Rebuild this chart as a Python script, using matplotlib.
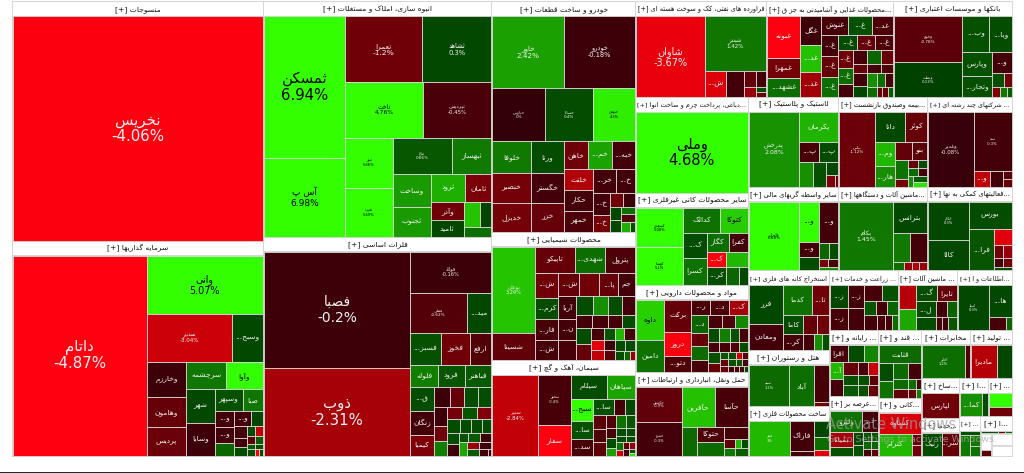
import numpy as np
import matplotlib
matplotlib.use('Agg')
import matplotlib.pyplot as plt
from matplotlib.patches import Rectangle

nan = float('nan')

# sectors, all rows below run in the same order
SECTOR_TITLES = [
    'منسوجات', 'سرمایه گذاریها', 'انبوه سازی، املاک و مستغلات', 'فلزات اساسی',
    'خودرو و ساخت قطعات', 'محصولات شیمیایی', 'سیمان، آهک و گچ',
    'فراورده های نفتی، کک و سوخت هسته ای', '...محصولات غذایی و آشامیدنی به جز ق', 'بانکها و موسسات اعتباری',
    '...دباغی، پرداخت چرم و ساخت انوا', 'سایر محصولات کانی غیرفلزی', 'مواد و محصولات دارویی', 'حمل ونقل، انبارداری و ارتباطات',
    'لاستیک و پلاستیک', '...بیمه وصندوق بازنشست', '... شرکتهای چند رشته ای',
    'سایر واسطه گریهای مالی', '...ماشین آلات و دستگاهها', '...فعالیتهای کمکی به نها',
    'استخراج کانه های فلزی', 'هتل و رستوران', 'ساخت محصولات فلزی',
    '... زراعت و خدمات', '... ماشین آلات', '...اطلاعات و ا',
    '... رایانه و', '...عرضه بر', '... قند و', '...کانی و',
    'مخابرات', '... تولید', '...ساخ', '...خدما', '...ا', '...', '...', '...ا', '', '', '',
]
SECTOR_WEIGHTS = [
    59750, 53750, 53580, 49930, 32890, 18376, 13656, 12445, 12065, 11305,
    10752, 10304, 9744, 9408, 8099, 7921, 7565, 7553, 7387, 7055,
    6399, 4536, 3969, 4071, 3481, 3245, 3234, 2940, 2924, 2494,
    2352, 2016, 1480, 1406, 1102, 912, 819, 544, 242, 252, 210,
]
SECTOR_STRIPS = 'c2 c2 c3 r3 c4 r3 r3 c3 r3 c2 c2 r2 c2 r2 c1 r1 c1 r1 r1'

TILE_NAMES = [
    ['نخریس'],
    ['داتام', 'وانی', 'سدبیر', 'وسبح...', 'وخارزم', 'وهامون', 'پردیس', 'سرچشمه', 'وآوا', 'شهر', 'وسایا', 'وسپهر', 'صبا', 'و...', 'و...', '', 'و...'],
    ['ثمسکن', 'آس پ', 'تعمرا', 'ثشاهد', 'ثاخت', 'ثپردیس', 'ثنور', 'ثغرب', 'ثباغ', 'ثبهساز', 'وساخت', 'ثجنوب', 'ثرود', 'ثامان', 'وآذر', 'ثامید'],
    ['فصبا', 'ذوب', 'فولاد', 'فملی', 'مید...', 'فسبز...', 'فخوز', 'ارفع', 'فلوله', 'فرود', 'فباهنر', 'ق...', 'زنگان', 'کیمیا'],
    ['خاور', 'خودرو', 'خپارس', 'خساپا', 'خبهمن', 'خلوفا', 'خنصیر', 'خدیزل', 'ورنا', 'خگستر', 'خزر', 'خاهن', 'خم...', 'خبه...', 'خلنت', 'حکار', 'خمهر', 'خر...', 'خ...', 'خ...', 'خ...'],
    ['بوعلی', 'شسینا', 'تاپیکو', 'شهدی...', 'پترول', 'ش...', 'کرم...', 'فار...', 'ش...', 'ش...', '', 'پا...', 'جم', 'آریا', 'ن...'],
    ['سنیر', 'سخوز', 'سفار', 'سیلام', 'سپاهان', 'سبج...', 'سا...', 'سد...', 'سا...'],
    ['شاوان', 'شبندر', 'ش...'],
    ['غبونه', 'غمهرا', 'غشهد...', 'غگل', 'غد...', 'غد...', 'غنوش', 'غ...', 'غد...', 'غ...', 'غ...', 'غ...', 'غ...', 'غ...', 'غ...', 'غ...', 'غ...'],
    ['وخوم', 'وبملت', 'وب...', 'ویا...', 'وپارس', 'وتجار...', 'و...'],
    ['وملی'],
    ['کسعدی', 'کهمدا', 'کدالک', 'کتوکا', 'ک...', 'کسرا', 'کگاز', 'کفرا', 'ک...', '', 'کر...'],
    ['داوه', 'دامین', 'برکت', 'دروز', 'دتو...', 'ر...', 'د...', 'ک...', 'د...'],
    ['حکشتی', 'حپترو', 'حآفرین', 'حآسا', '', 'حتوکا'],
    ['پدرخش', 'پکرمان', 'پ...', 'پ...'],
    ['بپاس', 'دانا', 'کوثر', 'وم...', 'هار...', '', 'بنو'],
    ['وغدیر', 'سپه', 'و...'],
    ['وایران', 'و...', 'و...', '', 'و...'],
    ['بکام', 'بترانس'],
    ['اتکام', 'کالا', 'بورس', 'فرا...'],
    ['فزر', 'ومعادن', 'کدما', 'تا...', 'کاما', 'کر...'],
    ['سپید', 'آباد'],
    ['فجر', 'فاراک'],
    ['ز...', 'ز...', 'ز...'],
    ['', '', 'گ...', 'تایرا', 'ل...'],
    ['اسیا', 'ها...'],
    ['اقرا', '', '', 'آ...'],
    ['ولیرو', 'د...', 'بمیانا'],
    ['قثابت'],
    ['کساوه', 'کترام'],
    ['اخابر'],
    ['مادیرا'],
    ['لپارس'],
    ['رنیک', 'سر...'],
    ['کما...'],
    [], [], [], [], [], [],
]

TILE_CHANGES = [
    [-4.06],
    [-4.87, 5.07, -3.04, 0.3, -0.2, -1, -1.1, 1.4, 4.9, 0.3, -0.2, 0.5, 1.4, -0.3, -0.3, 1.0, -0.3, 0.3, -0.3, -0.3, 0.4, 0.4, -2.8, -0.8, 0.8, 0.7, 0.5, 0.5, -4, 0.4],
    [6.94, 6.98, -1.2, 0.3, 4.76, -0.45, 5.66, 5.69, 0.66, 1.5, 2.3, 2.3, 2.8, -1.4, -1.2, 0.3, 3.3, 0.2, 1.2],
    [-0.2, -2.31, -0.16, -0.62, 0.3, 0.5, -1.2, -0.6, 1.6, 0.6, 0.7, 0.4, -0.3, -1.5, -0.2, -1, 0.4, 0.4, -0.2, -1.2, 1.6, -1.3, 0.6, -1.5, 0.4, 0.4, 0.4, 0.4, 0.4, -0.2, 0.5, 0.7, -0.2, 2.6, -2, -0.2, 0.7, -0.3, -0.2],
    [2.42, -0.18, -0.0, 0.4, 4.3, 1.5, -1.3, -1.3, 0.4, -0.3, -1, -1.2, 2.5, -0.3, -2.5, -0.3, -0.5, -0.3, -0.3, -0.3, -1.3, -1.2, -0.2, 0.3, 0.3, 1.3, -0.6, 2.8, 0.4],
    [3.29, -0.9, -1, 1.2, -0.5, -1.2, 0.4, -0.4, -0.4, -1, -1.2, -1, -0.3, -0.3, -0.3, -0.4, 0.4, 2, 0.4, -0.3, -0.3, -0.4, -0.4, 0.4, 0.4, -1, -0.3, 0.6, 3, -0.3, -3.5, -2.8, -0.2, -0.8, 0.4, 0.4, 0.4, 1, -2],
    [-2.84, -0.4, -4.2, 0.4, 2.5, 4.7, 0.5, -0.4, 0.5, -0.3, 0.3, -0.8, -0.5, -0.8, -0.6, -0.4, 0.4, 2.4, 1.3, 0.6, 0.4, 0.4, 0.4, 0.4, 1.3, -3, -1, -0.3, -2, 0.3, 4],
    [-3.67, 1.42, -3.4, -0.3, -0.9, -0.3, -2, 0.4, -1],
    [-4.1, -1.3, 1.2, -0.2, 3.2, -2.2, -0.4, 0.5, -0.5, -0.3, -1, 1.2, 0.4, -1, -0.5, -1.2, 1.2, -0.3, -0.3, 1, -1, -1, -0.3, -0.5, -0.3, 0.3, 2, 1.2, -0.4, 1.2, -1, -1, 0.8],
    [-0.78, 0.13, 0.5, 0.4, 0.5, 0.5, -0.3, 0.5, -1.2, -1.5, 1.5, 0.8],
    [4.68],
    [5.08, 5.1, 1.3, 3.5, 0.4, 1.3, 1.2, -0.3, -4, 3, 0.4, 1, 0.3],
    [3.6, 1.3, -1, -4, -0.6, -0.4, -0.5, -2.3, 1, -1, 1.1, -0.4, -0.4, -0.5, 1.8, 0.4, 1.6, 0.5, -0.3, -0.3, -0.4, -0.6, 0.4, 0.5, -1, 0.6, -1, -1, 0.5, -3, -0.8, 0.5, 0.6, -0.3, -0.3, -0.4, -0.5, 0.4],
    [-0.9, -0.3, 3.2, -0.4, 1.1, -0.5, 1.1, -0.4, -0.9, 3, 0.4, 1.5, 0.8],
    [2.08, 2.9, -0.4, 0.4, 2, 0.5, 0.3, -1.5, -1],
    [-1.12, 0.3, -1, 3, 2, -0.9, -0.8, 1.3, -1.3, -1, 0.4, 1.1, -0.3, 2, 0.7, 4],
    [-0.08, -0.3, -2.8, -0.3, -0.7, -1],
    [6.68, 5, -0.3, 0.4, -0.3, 1, 0.4, -1.3, -0.4, 2],
    [1.45, 0.3, 1.5, -0.3, 1.2, -2, -2.5, -2],
    [0.3, 0.3, 0.4, 0.6, -3.5, -1.3, -2, -0.3, -1.2, 0.4],
    [0.3, -0.3, 1.3, -1.2, 0.4, -0.3, -1, -1.2, -0.3, 2, 0.5],
    [1.1, 1.2, -0.4, -1.2],
    [3, -0.3, -0.4, 0.3, 1.2, -3.5],
    [0.3, -0.4, -0.3, -0.3, -0.4, 0.5, 0.6, -0.4, 1, -0.3, -0.4, -0.4, 1.2],
    [-2.6, 2.6, 0.4, -1, 0.4, -0.3, 0.9, 0.4, -0.3, -0.3, 0.6],
    [0.3, 0.3, -0.4, 1],
    [-0.4, 0.4, 1.8, 3, -0.3, -1, -0.4, -3, 0.5, 0.5, -0.8, 0.7, 0.5, -1],
    [1.3, -0.3, -2.3, 0.5, 0.3, 0.5, 0.6, 0.6, 1, 1, -0.3, -0.8],
    [1.1, 0.4, 1.3, 1.1, -0.3, 1.1, 1.2, -0.3, -1, -1, 1.6],
    [-3.3, 3, -1, -1.2],
    [1.2, -0.6],
    [-2.6, 0.3],
    [-1.2],
    [0.4, -1],
    [2, 0.4],
    [4.8, -1.2],
    [0.5, 1.5, 1.5, 1.3],
    [0.5, -1, 1],
    [nan, -0.8],
    [nan],
    [nan],
]

TILE_WEIGHTS = [
    [1],
    [26467, 6669, 4080, 1488, 1365, 1170, 1092, 1040, 936, 952, 924, 616, 440, 304, 304, 247, 255, 180, 156, 117, 104, 72, 72, 60, 55, 45, 45, 50, 20, 22],
    [11280, 6240, 4940, 4485, 4212, 3672, 2350, 2256, 2088, 1404, 1221, 1110, 952, 728, 576, 512, 384, 288, 252],
    [16848, 12672, 3280, 2223, 975, 961, 930, 682, 616, 594, 594, 552, 552, 483, 304, 285, 266, 266, 247, 195, 182, 180, 180, 180, 169, 143, 143, 130, 132, 132, 81, 99, 99, 110, 88, 88, 80, 55, 25],
    [4899, 4899, 2756, 2491, 2173, 1184, 1110, 1036, 1024, 960, 928, 648, 648, 621, 588, 588, 560, 529, 437, 352, 272, 182, 154, 143, 121, 98, 112, 80, 50],
    [3440, 1080, 1000, 750, 750, 552, 483, 460, 460, 462, 440, 418, 374, 374, 357, 340, 288, 270, 252, 234, 180, 192, 168, 156, 225, 210, 156, 120, 108, 120, 130, 130, 110, 99, 100, 100, 70, 60, 40],
    [3608, 1581, 961, 851, 644, 484, 396, 352, 357, 170, 170, 182, 169, 169, 130, 100, 100, 80, 117, 117, 72, 72, 54, 54, 49, 35, 42, 36, 40, 25, 15],
    [5440, 3294, 546, 442, 180, 150, 120, 50, 50],
    [1312, 640, 608, 560, 520, 500, 486, 414, 378, 320, 336, 320, 266, 252, 238, 255, 225, 180, 182, 182, 156, 126, 126, 108, 169, 143, 130, 104, 91, 100, 50, 50, 50],
    [3060, 2312, 945, 770, 667, 609, 399, 168, 112, 80, 70, 40],
    [1],
    [1672, 1628, 828, 621, 546, 567, 396, 342, 247, 286, 323, 221, 136],
    [1040, 806, 775, 575, 375, 266, 266, 252, 272, 208, 208, 176, 154, 154, 143, 143, 143, 117, 104, 99, 99, 81, 72, 130, 90, 56, 50, 45, 50, 45, 40, 40, 36, 30, 30, 30, 25, 20],
    [1496, 1452, 1248, 1248, 406, 390, 338, 264, 99, 50, 60, 77, 84],
    [3750, 1160, 400, 380, 325, 325, 144, 100, 44],
    [2516, 840, 616, 480, 400, 289, 255, 228, 96, 80, 72, 70, 63, 55, 78, 65],
    [3330, 2166, 255, 204, 68, 68],
    [3332, 741, 285, 247, 780, 160, 150, 70, 80, 60],
    [3604, 1050, 493, 464, 90, 60, 60, 60],
    [1517, 1230, 1118, 1025, 272, 112, 112, 70, 70, 60],
    [1254, 858, 812, 476, 380, 300, 266, 209, 165, 120, 90],
    [1599, 984, 525, 60],
    [1435, 690, 115, 240, 195, 75],
    [374, 357, 330, 315, 252, 224, 156, 140, 140, 176, 112, 90, 70],
    [391, 340, 300, 285, 304, 176, 144, 228, 72, 72, 96],
    [1333, 682, 204, 72],
    [289, 255, 221, 208, 208, 168, 120, 108, 126, 90, 80, 140, 100, 90],
    [651, 315, 315, 189, 126, 99, 72, 54, 60, 50, 50, 40],
    [697, 234, 208, 210, 195, 140, 70, 50, 110, 55, 40],
    [861, 660, 100, 90],
    [1302, 155],
    [775, 434],
    [1],
    [480, 384],
    [550, 150],
    [286, 198],
    [80, 220, 110, 90],
    [50, 20, 20],
    [180, 62],
    [1],
    [1],
]

TILE_STRIPS = [
    'c1',
    'c1 r1 r2 c3 r2 c2 r2 c3 r2 c3 r2 r2 r2 c1 c1 c1',
    'c2 r2 r2 c2 r2 c2 r2 c2 r2 r1',
    'c2 r1 r2 r3 r3 c3 r4 c3 r3 r4 c2 r3 c1 r2 r3',
    'r2 r3 c3 c3 r3 c3 r2 c2 r2 c2 r1 r1 r2',
    'c2 r3 c4 r4 c3 r4 r4 c2 r4 c2 c2 r2 r3',
    'c1 c2 r2 c3 r3 c3 c4 r2 r2 r2 c2 c2 c3',
    'c1 r1 c1 c1 r2 c1 c2',
    'c3 c3 r3 c3 r3 c3 r3 r3 c2 r3 r4',
    'c2 r2 c2 r1 r2 r3',
    'c1',
    'c2 r2 c2 r2 r2 r3',
    'c2 c3 r3 c4 r3 r4 r4 c2 c3 r3 r3 r4',
    'c2 r2 c1 c2 r1 r3 r2',
    'c1 r1 r2 c1 c1 r1 r2',
    'c1 r2 c2 r2 c2 r2 r2 c1 c2',
    'c1 r1 c1 c1 c2',
    'c1 c3 r1 r2 r2 r1',
    'c1 r1 r2 r4',
    'c2 r1 c1 r1 r2 r2 r1',
    'c2 r2 c2 r2 r3',
    'c1 c1 r1 r1',
    'c1 c2 r1 r1 r1',
    'c2 c2 r2 r3 c1 c1 c1 c1',
    'c2 r2 r3 r4',
    'c1 r1 r2',
    'r3 c2 r3 r3 r3',
    'r2 c2 c2 r2 r2 r2',
    'r1 c2 r2 r3 r3',
    'r1 c1 c2',
    'c1 c1',
    'c1 c1',
    'c1',
    'c1 c1',
    'c1 c1',
    'r1 r1',
    'r1 c1 r1 r1',
    'c1 c1 c1',
    'r1 r1',
    'c1',
    'c1',
]

# tiles that also print their change, with the font size they get
PCT_FONT = {
    'نخریس': 10.8, 'داتام': 10.8, 'وانی': 6.9, 'سدبیر': 4, 'ثمسکن': 10.7, 'آس پ': 6.5,
    'تعمرا': 5.4, 'ثشاهد': 4.9, 'ثاخت': 4.3, 'ثپردیس': 3.9, 'ثنور': 2.6, 'ثغرب': 2.6, 'ثباغ': 3,
    'فصبا': 10, 'ذوب': 10.7, 'فولاد': 3.6, 'فملی': 3, 'خاور': 5.2, 'خودرو': 4.8,
    'خپارس': 3, 'خساپا': 3, 'خبهمن': 2.6, 'بوعلی': 3.6, 'سنیر': 3.9, 'سخوز': 2.6,
    'شاوان': 7, 'شبندر': 4, 'وخوم': 3, 'وبملت': 2.8, 'وملی': 10.5, 'کسعدی': 2.6, 'کهمدا': 2.6,
    'حکشتی': 2.6, 'حپترو': 2.6, 'پدرخش': 4.5, 'بپاس': 3, 'وغدیر': 3.9, 'سپه': 2.6,
    'وایران': 3, 'بکام': 4.5, 'اتکام': 2.6, 'سپید': 2.6, 'فجر': 2.6, 'اسیا': 2.6, 'اخابر': 2.6,
}
NAME_FONT = 5.4
TITLE_FONT = 5.4

# first presentation form code point, and whether the letter also joins to the next one
FORMS = {
    'ا': (0xFE8D, 0), 'آ': (0xFE81, 0), 'أ': (0xFE83, 0), 'د': (0xFEA9, 0), 'ذ': (0xFEAB, 0),
    'ر': (0xFEAD, 0), 'ز': (0xFEAF, 0), 'ژ': (0xFB8A, 0), 'و': (0xFEED, 0),
    'ب': (0xFE8F, 1), 'پ': (0xFB56, 1), 'ت': (0xFE95, 1), 'ث': (0xFE99, 1), 'ج': (0xFE9D, 1),
    'چ': (0xFB7A, 1), 'ح': (0xFEA1, 1), 'خ': (0xFEA5, 1), 'س': (0xFEB1, 1), 'ش': (0xFEB5, 1),
    'ص': (0xFEB9, 1), 'ض': (0xFEBD, 1), 'ط': (0xFEC1, 1), 'ظ': (0xFEC5, 1), 'ع': (0xFEC9, 1),
    'غ': (0xFECD, 1), 'ف': (0xFED1, 1), 'ق': (0xFED5, 1), 'ک': (0xFB8E, 1), 'گ': (0xFB92, 1),
    'ل': (0xFEDD, 1), 'م': (0xFEE1, 1), 'ن': (0xFEE5, 1), 'ه': (0xFEE9, 1), 'ی': (0xFBFC, 1),
}


def shape(text):
    # matplotlib does no arabic shaping, so pick the joined forms and flip the order
    out = []
    for i, ch in enumerate(text):
        if ch not in FORMS:
            out.append(ch)
            continue
        start, dual = FORMS[ch]
        prev = text[i - 1] if i > 0 else ''
        nxt = text[i + 1] if i + 1 < len(text) else ''
        after = prev in FORMS and FORMS[prev][1] == 1
        before = dual == 1 and nxt in FORMS
        if before:
            out.append(chr(start + (3 if after else 2)))
        else:
            out.append(chr(start + (1 if after else 0)))
    return ''.join(reversed(out))


def split(x, y, w, h, weights, strips):
    rects = []
    i = 0
    for s in strips.split():
        n = int(s[1:])
        part = weights[i:i + n]
        t = sum(part) / sum(weights[i:])
        pos = 0
        for v in part:
            f = v / sum(part)
            if s[0] == 'c':
                rects.append((x, y + pos * h, w * t, h * f))
            else:
                rects.append((x + pos * w, y, w * f, h * t))
            pos += f
        if s[0] == 'c':
            x += w * t
            w -= w * t
        else:
            y += h * t
            h -= h * t
        i += n
    return rects


def tile_color(c):
    if np.isnan(c):
        return '#ffffff'
    if np.signbit(c):
        r = np.interp(-c, [0, 4.1], [52, 255])
        b = np.interp(-c, [3, 4.1], [8, 16])
        return (r / 255, 0, b / 255)
    g = np.interp(c, [0, 4.7], [60, 255])
    r = np.interp(c, [0, 4.7], [0, 51])
    return (r / 255, g / 255, 0)


fig = plt.figure(figsize=(10.24, 4.73), dpi=100)
ax = fig.add_axes([0, 0, 1, 1])
ax.set_xlim(0, 1024)
ax.set_ylim(473, 0)
ax.axis('off')
ax.axhspan(472, 473, color='#1c2b33', lw=0)
renderer = fig.canvas.get_renderer()

ax.add_patch(Rectangle((11.5, 1.5), 1001, 455.5, fc='#d6d6d6', ec='none'))
HEADER = 13.5

sector_rects = split(12, 2, 1000, 454, SECTOR_WEIGHTS, SECTOR_STRIPS)
for k, (sx, sy, sw, sh) in enumerate(sector_rects):
    sx, sy, sw, sh = sx + 0.5, sy + 0.5, sw - 1, sh - 1
    title = SECTOR_TITLES[k]
    if title:
        head = Rectangle((sx, sy), sw, HEADER, fc='white', ec='none')
        ax.add_patch(head)
        t = ax.text(sx + sw / 2, sy + HEADER / 2, '[+] ' + shape(title), ha='center', va='center',
                    fontsize=TITLE_FONT, color='#111111')
        # long titles shrink until they sit inside their header
        width = t.get_window_extent(renderer).width
        if width > sw - 3:
            t.set_fontsize(TITLE_FONT * (sw - 3) / width)
        sy += HEADER + 0.5
        sh -= HEADER + 0.5

    names = TILE_NAMES[k] + [''] * (len(TILE_WEIGHTS[k]) - len(TILE_NAMES[k]))
    for (x, y, w, h), name, c in zip(split(sx, sy, sw, sh, TILE_WEIGHTS[k], TILE_STRIPS[k]), names, TILE_CHANGES[k]):
        rect = Rectangle((x, y), w, h, fc=tile_color(c), ec='#d8d8d8', lw=0.6)
        ax.add_patch(rect)
        if not name:
            continue
        color = 'black' if c >= 3.5 else '#f2f2f2'
        if name in PCT_FONT:
            label = shape(name) + '\n' + f'{c + 0:g}%'
            size = PCT_FONT[name]
        else:
            label = shape(name)
            size = NAME_FONT
        t = ax.text(x + w / 2, y + h / 2, label, ha='center', va='center', fontsize=size,
                    color=color, linespacing=1.15, clip_on=True)
        t.set_clip_path(rect)

# the windows watermark sits on top of the screenshot
ax.text(891, 424, 'Activate Windows', ha='center', va='center', fontsize=10.5, color='#9a9a9a', alpha=0.75)
ax.text(912, 439, 'Go to Settings to activate Windows.', ha='center', va='center', fontsize=6.8, color='#a8a8a8', alpha=0.75)

fig.savefig('out.png', dpi=100)
